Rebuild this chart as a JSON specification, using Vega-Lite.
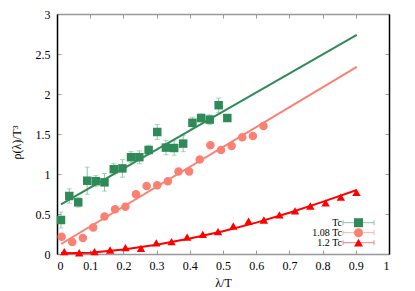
{
  "$schema": "https://vega.github.io/schema/vega-lite/v6.json",
  "width": 332,
  "height": 240,
  "autosize": {"type": "none"},
  "padding": {"left": 57, "top": 14, "right": 26, "bottom": 37},
  "background": "white",
  "config": {
    "view": {"stroke": null},
    "font": "Liberation Serif",
    "axis": {
      "labelFont": "Liberation Serif",
      "titleFont": "Liberation Serif",
      "labelFontSize": 12,
      "titleFontSize": 12,
      "titleFontWeight": "normal",
      "labelColor": "#000",
      "titleColor": "#000",
      "grid": false,
      "tickSize": -4,
      "tickColor": "#999",
      "tickWidth": 1,
      "domainWidth": 1.5
    },
    "legend": {"labelFont": "Liberation Serif"}
  },
  "datasets": {
    "pts": [
      {"series": "Tc", "x": 0.012, "y": 0.425},
      {"series": "Tc", "x": 0.037, "y": 0.725},
      {"series": "Tc", "x": 0.064, "y": 0.646},
      {"series": "Tc", "x": 0.091, "y": 0.916},
      {"series": "Tc", "x": 0.117, "y": 0.91},
      {"series": "Tc", "x": 0.143, "y": 0.896},
      {"series": "Tc", "x": 0.171, "y": 1.06},
      {"series": "Tc", "x": 0.197, "y": 1.07},
      {"series": "Tc", "x": 0.223, "y": 1.21},
      {"series": "Tc", "x": 0.248, "y": 1.21},
      {"series": "Tc", "x": 0.276, "y": 1.3},
      {"series": "Tc", "x": 0.302, "y": 1.525},
      {"series": "Tc", "x": 0.328, "y": 1.33},
      {"series": "Tc", "x": 0.353, "y": 1.325},
      {"series": "Tc", "x": 0.38, "y": 1.38},
      {"series": "Tc", "x": 0.408, "y": 1.64},
      {"series": "Tc", "x": 0.434, "y": 1.7},
      {"series": "Tc", "x": 0.46, "y": 1.68},
      {"series": "Tc", "x": 0.487, "y": 1.86},
      {"series": "Tc", "x": 0.513, "y": 1.7},
      {"series": "1.08 Tc", "x": 0.014, "y": 0.216},
      {"series": "1.08 Tc", "x": 0.046, "y": 0.15},
      {"series": "1.08 Tc", "x": 0.078, "y": 0.2},
      {"series": "1.08 Tc", "x": 0.109, "y": 0.33},
      {"series": "1.08 Tc", "x": 0.143, "y": 0.47},
      {"series": "1.08 Tc", "x": 0.175, "y": 0.56},
      {"series": "1.08 Tc", "x": 0.206, "y": 0.59},
      {"series": "1.08 Tc", "x": 0.238, "y": 0.746},
      {"series": "1.08 Tc", "x": 0.27, "y": 0.85},
      {"series": "1.08 Tc", "x": 0.302, "y": 0.858},
      {"series": "1.08 Tc", "x": 0.334, "y": 0.91},
      {"series": "1.08 Tc", "x": 0.366, "y": 1.03},
      {"series": "1.08 Tc", "x": 0.398, "y": 1.03},
      {"series": "1.08 Tc", "x": 0.43, "y": 1.18},
      {"series": "1.08 Tc", "x": 0.462, "y": 1.36},
      {"series": "1.08 Tc", "x": 0.494, "y": 1.3},
      {"series": "1.08 Tc", "x": 0.526, "y": 1.35},
      {"series": "1.08 Tc", "x": 0.558, "y": 1.46},
      {"series": "1.08 Tc", "x": 0.59, "y": 1.475},
      {"series": "1.08 Tc", "x": 0.622, "y": 1.6},
      {"series": "1.2 Tc", "x": 0.022, "y": 0.03},
      {"series": "1.2 Tc", "x": 0.067, "y": 0.016},
      {"series": "1.2 Tc", "x": 0.113, "y": 0.03},
      {"series": "1.2 Tc", "x": 0.16, "y": 0.05},
      {"series": "1.2 Tc", "x": 0.206, "y": 0.08},
      {"series": "1.2 Tc", "x": 0.253, "y": 0.07},
      {"series": "1.2 Tc", "x": 0.299, "y": 0.14},
      {"series": "1.2 Tc", "x": 0.345, "y": 0.154},
      {"series": "1.2 Tc", "x": 0.392, "y": 0.21},
      {"series": "1.2 Tc", "x": 0.439, "y": 0.246},
      {"series": "1.2 Tc", "x": 0.485, "y": 0.28},
      {"series": "1.2 Tc", "x": 0.531, "y": 0.35},
      {"series": "1.2 Tc", "x": 0.577, "y": 0.41},
      {"series": "1.2 Tc", "x": 0.623, "y": 0.425},
      {"series": "1.2 Tc", "x": 0.67, "y": 0.49},
      {"series": "1.2 Tc", "x": 0.717, "y": 0.54},
      {"series": "1.2 Tc", "x": 0.763, "y": 0.6},
      {"series": "1.2 Tc", "x": 0.809, "y": 0.64},
      {"series": "1.2 Tc", "x": 0.855, "y": 0.71},
      {"series": "1.2 Tc", "x": 0.902, "y": 0.77}
    ],
    "err": [
      {"bar": "e1", "x": 0.012, "lo": 0.325, "hi": 0.525},
      {"bar": "e1", "x": 0.037, "lo": 0.635, "hi": 0.815},
      {"bar": "e1", "x": 0.064, "lo": 0.586, "hi": 0.706},
      {"bar": "e1", "x": 0.091, "lo": 0.746, "hi": 1.086},
      {"bar": "e1", "x": 0.117, "lo": 0.84, "hi": 0.98},
      {"bar": "e1", "x": 0.143, "lo": 0.786, "hi": 1.006},
      {"bar": "e1", "x": 0.171, "lo": 0.99, "hi": 1.13},
      {"bar": "e1", "x": 0.197, "lo": 0.96, "hi": 1.18},
      {"bar": "e1", "x": 0.223, "lo": 1.14, "hi": 1.28},
      {"bar": "e1", "x": 0.248, "lo": 1.13, "hi": 1.29},
      {"bar": "e1", "x": 0.276, "lo": 1.24, "hi": 1.36},
      {"bar": "e1", "x": 0.302, "lo": 1.43, "hi": 1.62},
      {"bar": "e1", "x": 0.328, "lo": 1.24, "hi": 1.42},
      {"bar": "e1", "x": 0.353, "lo": 1.235, "hi": 1.415},
      {"bar": "e1", "x": 0.38, "lo": 1.28, "hi": 1.48},
      {"bar": "e1", "x": 0.408, "lo": 1.57, "hi": 1.71},
      {"bar": "e1", "x": 0.434, "lo": 1.65, "hi": 1.75},
      {"bar": "e1", "x": 0.46, "lo": 1.62, "hi": 1.74},
      {"bar": "e1", "x": 0.487, "lo": 1.77, "hi": 1.95},
      {"bar": "e1", "x": 0.513, "lo": 1.66, "hi": 1.74}
    ],
    "fit": [
      {"series": "Tc", "x": 0.012, "y": 0.62},
      {"series": "Tc", "x": 0.903, "y": 2.74},
      {"series": "1.08 Tc", "x": 0.012, "y": 0.125},
      {"series": "1.08 Tc", "x": 0.903, "y": 2.34},
      {"series": "1.2 Tc", "x": 0.012, "y": 0.01},
      {"series": "1.2 Tc", "x": 0.1, "y": 0.017},
      {"series": "1.2 Tc", "x": 0.2, "y": 0.057},
      {"series": "1.2 Tc", "x": 0.3, "y": 0.116},
      {"series": "1.2 Tc", "x": 0.4, "y": 0.195},
      {"series": "1.2 Tc", "x": 0.5, "y": 0.285},
      {"series": "1.2 Tc", "x": 0.6, "y": 0.392},
      {"series": "1.2 Tc", "x": 0.7, "y": 0.515},
      {"series": "1.2 Tc", "x": 0.8, "y": 0.651},
      {"series": "1.2 Tc", "x": 0.903, "y": 0.8}
    ]
  },
  "layer": [
    {
      "data": {"name": "err"},
      "mark": {"type": "rule", "strokeWidth": 1},
      "encoding": {
        "x": {"field": "x", "type": "quantitative", "scale": {"domain": [0, 1], "nice": false}, "axis": null},
        "y": {"field": "lo", "type": "quantitative", "scale": {"domain": [0, 3], "nice": false}, "axis": null},
        "y2": {"field": "hi"},
        "stroke": {
          "field": "bar", "type": "nominal",
          "scale": {"domain": ["e1", "e2", "e3"], "range": ["#8cc4a3", "#fbb3aa", "#ff8080"]},
          "legend": {
            "orient": "none", "legendX": 296.5, "legendY": 203.7, "title": null,
            "symbolType": "M-3.44,0H3.44M-3.44,-0.55V0.55M3.44,-0.55V0.55",
            "symbolSize": 81, "symbolStrokeWidth": 1, "symbolFillColor": "transparent",
            "labelOpacity": 0, "labelFontSize": 10, "rowPadding": 0, "padding": 0
          }
        }
      }
    },
    {
      "data": {"name": "err"},
      "mark": {"type": "tick", "orient": "horizontal", "size": 5, "thickness": 1, "color": "#8cc4a3"},
      "encoding": {
        "x": {"field": "x", "type": "quantitative", "axis": null},
        "y": {"field": "lo", "type": "quantitative", "axis": null}
      }
    },
    {
      "data": {"name": "err"},
      "mark": {"type": "tick", "orient": "horizontal", "size": 5, "thickness": 1, "color": "#8cc4a3"},
      "encoding": {
        "x": {"field": "x", "type": "quantitative", "axis": null},
        "y": {"field": "hi", "type": "quantitative", "axis": null}
      }
    },
    {
      "data": {"name": "fit"},
      "mark": {"type": "line", "strokeWidth": 2},
      "encoding": {
        "x": {"field": "x", "type": "quantitative",
          "axis": {"orient": "top", "labels": false, "title": null, "values": [0, 0.1, 0.2, 0.3, 0.4, 0.5, 0.6, 0.7, 0.8, 0.9, 1], "domainColor": "#999"}},
        "y": {"field": "y", "type": "quantitative",
          "axis": {"orient": "right", "labels": false, "title": null, "values": [0, 0.5, 1, 1.5, 2, 2.5, 3], "domainColor": "#000"}},
        "color": {
          "field": "series", "type": "nominal",
          "scale": {"domain": ["Tc", "1.08 Tc", "1.2 Tc"], "range": ["#2e8b57", "#fa8072", "#ff0000"]},
          "legend": {
            "orient": "none", "legendX": 296.5, "legendY": 203.7, "title": null,
            "labelAlign": "right", "labelOffset": -21.5, "symbolSize": 81,
            "labelFontSize": 10, "labelColor": "#000",
            "rowPadding": 0, "padding": 0, "symbolStrokeWidth": 0
          }
        },
        "detail": {"field": "series"}
      }
    },
    {
      "data": {"name": "pts"},
      "mark": {"type": "point", "filled": true, "size": 72, "opacity": 1},
      "encoding": {
        "x": {"field": "x", "type": "quantitative",
          "axis": {"orient": "bottom", "title": "λ/T", "values": [0, 0.1, 0.2, 0.3, 0.4, 0.5, 0.6, 0.7, 0.8, 0.9, 1], "format": "~g", "domainColor": "#999", "labelPadding": 10, "titlePadding": 6, "labelFont": "Liberation Serif", "titleFont": "Liberation Serif"}},
        "y": {"field": "y", "type": "quantitative",
          "axis": {"orient": "left", "title": "ρ(λ)/T³", "titleY": 128, "values": [0, 0.5, 1, 1.5, 2, 2.5, 3], "format": "~g", "domainColor": "#000", "labelPadding": 11, "titlePadding": 12, "labelFont": "Liberation Serif", "titleFont": "Liberation Serif"}},
        "color": {
          "field": "series", "type": "nominal",
          "scale": {"domain": ["Tc", "1.08 Tc", "1.2 Tc"], "range": ["#2e8b57", "#fa8072", "#ff0000"]},
          "legend": {
            "orient": "none", "legendX": 296.5, "legendY": 203.7, "title": null,
            "labelAlign": "right", "labelOffset": -21.5, "symbolSize": 81,
            "labelFontSize": 10, "labelColor": "#000",
            "rowPadding": 0, "padding": 0, "symbolStrokeWidth": 0
          }
        },
        "shape": {
          "field": "series", "type": "nominal",
          "scale": {"domain": ["Tc", "1.08 Tc", "1.2 Tc"], "range": ["square", "circle", "triangle-up"]},
          "legend": {
            "orient": "none", "legendX": 296.5, "legendY": 203.7, "title": null,
            "labelAlign": "right", "labelOffset": -21.5, "symbolSize": 81,
            "labelFontSize": 10, "labelColor": "#000",
            "rowPadding": 0, "padding": 0, "symbolStrokeWidth": 0
          }
        }
      }
    }
  ],
  "resolve": {"axis": {"x": "independent", "y": "independent"}}
}
